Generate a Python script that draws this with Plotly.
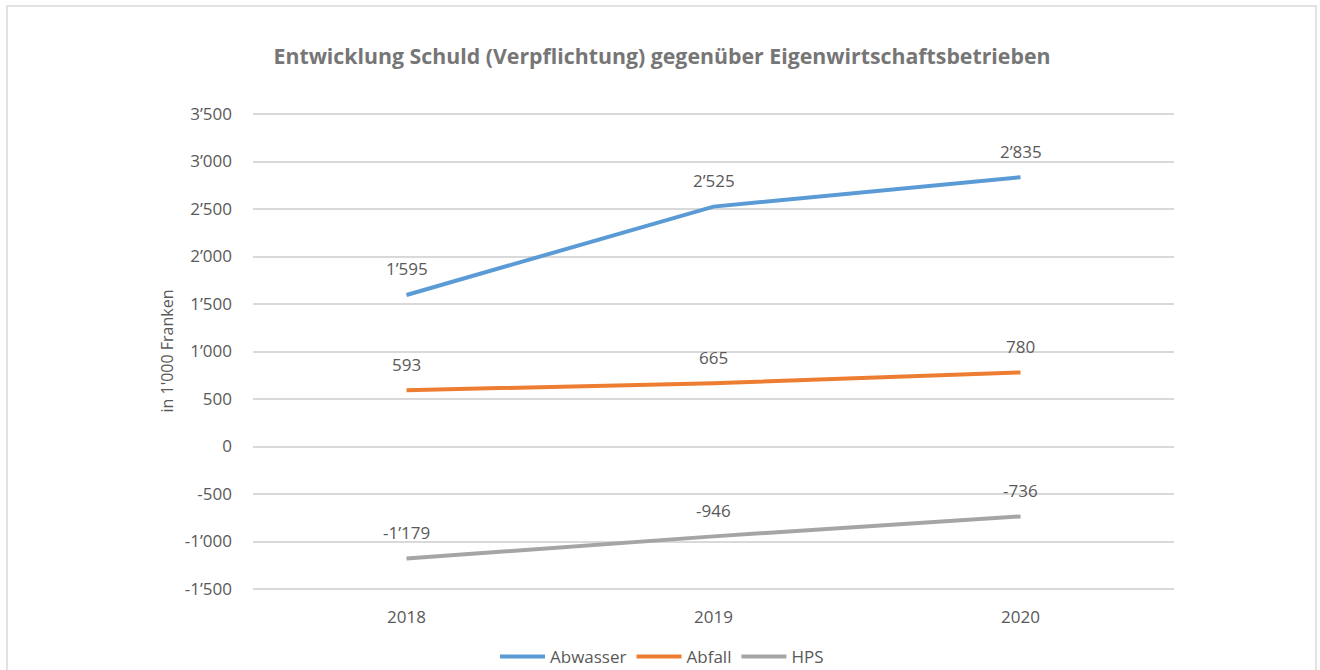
import plotly.graph_objects as go

# Jahre und Bestände (in 1'000 Franken)
years = ["2018", "2019", "2020"]
abwasser = [1595, 2525, 2835]
abfall = [593, 665, 780]
hps = [-1179, -946, -736]

series_names = ["Abwasser", "Abfall", "HPS"]
series_colors = ["#5B9BD5", "#ED7D31", "#A5A5A5"]

y_ticks = [-1500, -1000, -500, 0, 500, 1000, 1500, 2000, 2500, 3000, 3500]


def swiss(v):
    return f"{v:,}".replace(",", "\u2019")


TEXT_FONT = "Open Sans"
TEXT_COLOR = "#595959"

fig = go.Figure()
annotations = []
for name, vals, color in zip(series_names, [abwasser, abfall, hps], series_colors):
    fig.add_trace(go.Scatter(
        x=years, y=vals, name=name, mode="lines",
        line=dict(color=color, width=4),
    ))
    # Datenbeschriftung über jedem Punkt (Kategorie-Index als Position)
    for i, v in enumerate(vals):
        annotations.append(dict(
            x=i, y=v, xref="x", yref="y", text=swiss(v), showarrow=False,
            yshift=26, font=dict(family=TEXT_FONT, size=17, color=TEXT_COLOR),
        ))

annotations.append(dict(
    x=(166 - 253) / 921, y=0.5, xref="paper", yref="paper", text="in 1'000 Franken",
    textangle=-90, showarrow=False, xanchor="center", yanchor="middle",
    font=dict(family=TEXT_FONT, size=16, color=TEXT_COLOR),
))

fig.update_layout(
    width=1320, height=670,
    margin=dict(l=253, r=146, t=112, b=79, autoexpand=False),
    paper_bgcolor="white", plot_bgcolor="white",
    title=dict(
        text="<b>Entwicklung Schuld (Verpflichtung) gegenüber Eigenwirtschaftsbetrieben</b>",
        x=662 / 1320, xref="container", xanchor="center",
        y=1 - 57 / 670, yref="container", yanchor="middle",
        font=dict(family="Open Sans", size=21.3, color="#767676"),
    ),
    xaxis=dict(
        type="category", range=[-0.5, 2.5], showgrid=False, zeroline=False,
        showline=False, ticks="", ticklabelstandoff=14,
        tickfont=dict(family=TEXT_FONT, size=17, color=TEXT_COLOR),
    ),
    yaxis=dict(
        range=[-1521, 3521], tickvals=y_ticks, ticktext=[swiss(v) for v in y_ticks],
        showgrid=True, gridcolor="#D9D9D9", gridwidth=1.5, zeroline=False,
        showline=False, ticks="", ticklabelstandoff=20,
        tickfont=dict(family=TEXT_FONT, size=17, color=TEXT_COLOR),
    ),
    legend=dict(
        orientation="h", x=662 / 1320, xref="container", xanchor="center",
        y=1 - 657 / 670, yref="container", yanchor="middle",
        font=dict(family=TEXT_FONT, size=17, color=TEXT_COLOR),
        itemwidth=45,
    ),
    annotations=annotations,
    shapes=[dict(
        type="rect", xref="paper", yref="paper",
        x0=(7 - 253) / 921, x1=(1316 - 253) / 921,
        y0=(591 - 690) / 479, y1=(591 - 6) / 479,
        line=dict(color="#D9D9D9", width=1.5), fillcolor="rgba(0,0,0,0)",
        layer="below",
    )],
)

fig.write_html("out.html")
